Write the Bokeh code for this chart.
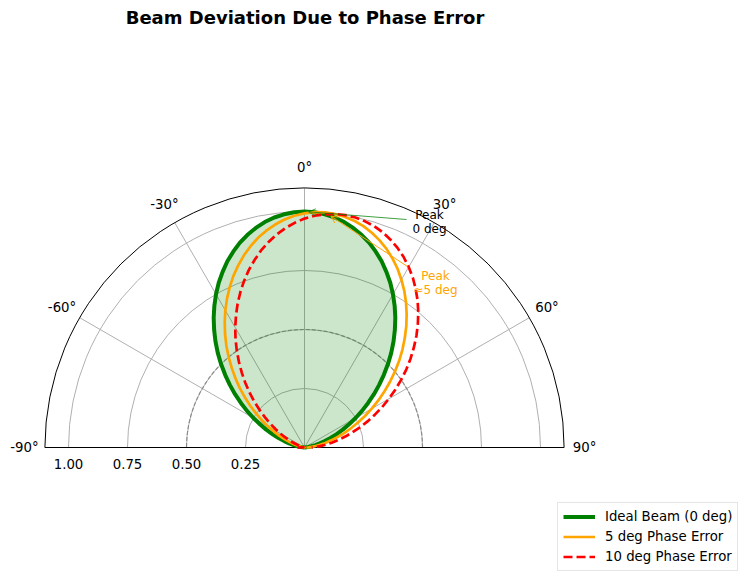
import numpy as np
from bokeh.plotting import figure
from bokeh.models import Range1d, Arrow, OpenHead, Label
from bokeh.embed import file_html
from bokeh.resources import INLINE
from bokeh.core.properties import value

# ---------------- data ----------------
# beam angle samples, -90 .. 90 deg in 2.5 deg steps
theta_deg = [-90 + 2.5 * i for i in range(73)]

r_ideal = [0.000, 0.002, 0.008, 0.017, 0.030, 0.047, 0.067, 0.090, 0.117, 0.146,
           0.179, 0.213, 0.250, 0.289, 0.329, 0.371, 0.413, 0.456, 0.500, 0.544,
           0.587, 0.629, 0.671, 0.711, 0.750, 0.787, 0.821, 0.854, 0.883, 0.910,
           0.933, 0.953, 0.970, 0.983, 0.992, 0.998, 1.000,
           0.998, 0.992, 0.983, 0.970, 0.953, 0.933, 0.910, 0.883, 0.854, 0.821,
           0.787, 0.750, 0.711, 0.671, 0.629, 0.587, 0.544, 0.500, 0.456, 0.413,
           0.371, 0.329, 0.289, 0.250, 0.213, 0.179, 0.146, 0.117, 0.090, 0.067,
           0.047, 0.030, 0.017, 0.008, 0.002, 0.000]

r_5deg = [0.008, 0.002,
          0.000, 0.002, 0.008, 0.017, 0.030, 0.047, 0.067, 0.090, 0.117, 0.146,
          0.179, 0.213, 0.250, 0.289, 0.329, 0.371, 0.413, 0.456, 0.500, 0.544,
          0.587, 0.629, 0.671, 0.711, 0.750, 0.787, 0.821, 0.854, 0.883, 0.910,
          0.933, 0.953, 0.970, 0.983, 0.992, 0.998, 1.000,
          0.998, 0.992, 0.983, 0.970, 0.953, 0.933, 0.910, 0.883, 0.854, 0.821,
          0.787, 0.750, 0.711, 0.671, 0.629, 0.587, 0.544, 0.500, 0.456, 0.413,
          0.371, 0.329, 0.289, 0.250, 0.213, 0.179, 0.146, 0.117, 0.090, 0.067,
          0.047, 0.030, 0.017, 0.008]

r_10deg = [0.030, 0.017, 0.008, 0.002,
           0.000, 0.002, 0.008, 0.017, 0.030, 0.047, 0.067, 0.090, 0.117, 0.146,
           0.179, 0.213, 0.250, 0.289, 0.329, 0.371, 0.413, 0.456, 0.500, 0.544,
           0.587, 0.629, 0.671, 0.711, 0.750, 0.787, 0.821, 0.854, 0.883, 0.910,
           0.933, 0.953, 0.970, 0.983, 0.992, 0.998, 1.000,
           0.998, 0.992, 0.983, 0.970, 0.953, 0.933, 0.910, 0.883, 0.854, 0.821,
           0.787, 0.750, 0.711, 0.671, 0.629, 0.587, 0.544, 0.500, 0.456, 0.413,
           0.371, 0.329, 0.289, 0.250, 0.213, 0.179, 0.146, 0.117, 0.090, 0.067,
           0.047, 0.030]

series_labels = ["Ideal Beam (0 deg)", "5 deg Phase Error", "10 deg Phase Error"]

theta_ticks = [-90, -60, -30, 0, 30, 60, 90]
theta_tick_labels = ["-90°", "-60°", "-30°", "0°", "30°", "60°", "90°"]
r_ticks = [0.25, 0.50, 0.75, 1.00]
r_tick_labels = ["0.25", "0.50", "0.75", "1.00"]
r_max = 1.1
ref_ring = 0.5

title_text = "Beam Deviation Due to Phase Error"
annot_0 = ["Peak", "0 deg"]
annot_5 = ["Peak", "≈5 deg"]

assert len(theta_deg) == len(r_ideal) == len(r_5deg) == len(r_10deg)

# ---------------- layout ----------------
W, H = 750, 588
S = 236.0          # pixels per radial unit
CX, CY = 304, 447  # polar centre in canvas pixels
FONT = "DejaVu Sans"
BASE_FIX = 0.38    # baseline correction (fraction of font size)


def pg(px, py):
    """canvas pixel -> data coordinates"""
    return (px - CX) / S, (CY - py) / S


def polar(th_deg, r):
    th = np.deg2rad(np.asarray(th_deg, dtype=float))
    r = np.asarray(r, dtype=float)
    return r * np.sin(th), r * np.cos(th)


p = figure(width=W, height=H, title=None,
           x_range=Range1d(-CX / S, (W - CX) / S),
           y_range=Range1d(-(H - CY) / S, CY / S),
           output_backend="svg", toolbar_location=None,
           x_axis_location=None, y_axis_location=None, min_border=0)
p.grid.visible = False
p.outline_line_color = None
p.background_fill_color = "white"
p.border_fill_color = "white"

# grid arcs
p.arc(x=[0] * len(r_ticks), y=[0] * len(r_ticks), radius=r_ticks,
      start_angle=0, end_angle=np.pi, line_color="#b0b0b0", line_width=1)
# radial grid lines
inner = [t for t in theta_ticks if abs(t) < 90]
gx, gy = polar(inner, [r_max] * len(inner))
p.segment(x0=[0] * len(inner), y0=[0] * len(inner), x1=gx, y1=gy,
          line_color="#b0b0b0", line_width=1)
# reference ring
p.arc(x=0, y=0, radius=ref_ring, start_angle=0, end_angle=np.pi,
      line_color="gray", line_width=1.2, line_dash="4 2", line_alpha=0.8)

# curves
xi, yi = polar(theta_deg, r_ideal)
x5, y5 = polar(theta_deg, r_5deg)
x10, y10 = polar(theta_deg, r_10deg)
p.patch(xi, yi, fill_color="green", fill_alpha=0.2, line_color=None)

# spines
p.arc(x=0, y=0, radius=r_max, start_angle=0, end_angle=np.pi,
      line_color="black", line_width=1)
p.segment(x0=[-r_max], y0=[0], x1=[r_max], y1=[0], line_color="black", line_width=1)

p.line(xi, yi, line_color="green", line_width=4, line_join="round",
       legend_label=series_labels[0])
p.line(x5, y5, line_color="orange", line_width=2.7, line_join="round",
       legend_label=series_labels[1])
p.line(x10, y10, line_color="red", line_width=2.7, line_dash="9 4",
       legend_label=series_labels[2])

# theta tick labels
fs_tick = 13.3
lab_r = 280.0 / S
tx, ty = polar(theta_ticks, [lab_r] * len(theta_ticks))
p.text(x=tx, y=ty - (5.0 - BASE_FIX * fs_tick) / S, text=theta_tick_labels,
       text_align="center", text_baseline="alphabetic", text_font=value(FONT),
       text_font_size="13.3px", text_color="black")
# radial tick labels
p.text(x=[-r for r in r_ticks], y=[-(21.3 - BASE_FIX * fs_tick) / S] * len(r_ticks),
       text=r_tick_labels,
       text_align="center", text_baseline="alphabetic", text_font=value(FONT),
       text_font_size="13.3px", text_color="black")


# annotations
def peak(xs, ys, rs):
    i = int(np.argmax(rs))
    return xs[i], ys[i]


def add_arrow(start, end, shrink_px, color, alpha=1.0):
    sx, sy = start
    ex, ey = end
    d = np.hypot(sx - ex, sy - ey)
    ex2 = ex + (sx - ex) / d * shrink_px / S
    ey2 = ey + (sy - ey) / d * shrink_px / S
    p.add_layout(Arrow(end=OpenHead(size=7, line_color=color, line_width=1, line_alpha=alpha),
                       x_start=sx, y_start=sy, x_end=ex2, y_end=ey2,
                       line_color=color, line_width=1, line_alpha=alpha))


add_arrow(pg(406, 219), peak(xi, yi, r_ideal), 4, "green", 0.75)
add_arrow(pg(407, 266), peak(x5, y5, r_5deg), 7, "orange")

fs_ann = 12.0
sh = BASE_FIX * fs_ann
a0 = [pg(429, 218.7 - sh), pg(429, 233.0 - sh)]
a5 = [pg(435, 279.7 - sh), pg(435, 294.3 - sh)]
p.text(x=[a[0] for a in a0], y=[a[1] for a in a0], text=annot_0,
       text_align="center", text_baseline="alphabetic", text_font=value(FONT),
       text_font_size="12px", text_color="black")
p.text(x=[a[0] for a in a5], y=[a[1] for a in a5], text=annot_5,
       text_align="center", text_baseline="alphabetic", text_font=value(FONT),
       text_font_size="12px", text_color="orange")

# title
tx0, ty0 = pg(304.5, 24 - BASE_FIX * 18)
p.add_layout(Label(x=tx0, y=ty0, text=title_text, text_align="center",
                   text_baseline="alphabetic", text_font=FONT,
                   text_font_size="18px", text_font_style="bold", text_color="black"))

# legend
lg = p.legend[0]
lg.location = (557, 17)
lg.margin = 0
lg.padding = 5
lg.spacing = 3
lg.glyph_width = 32
lg.glyph_height = 17
lg.label_height = 17
lg.label_standoff = 10
lg.label_text_font = FONT
lg.label_text_font_size = "13.3px"
lg.label_text_color = "black"
lg.border_line_color = "#cccccc"
lg.border_line_width = 1
lg.background_fill_alpha = 0.8

open("out.html", "w").write(file_html(p, INLINE))
